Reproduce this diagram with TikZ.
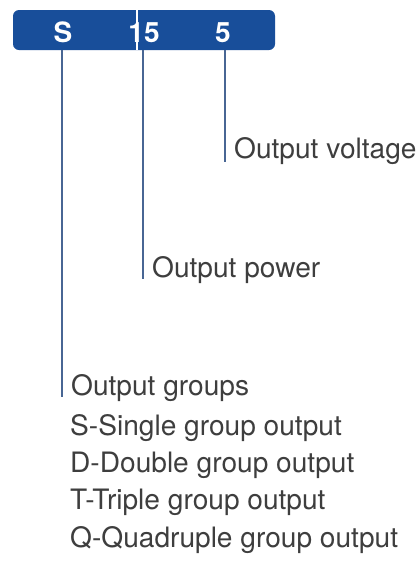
\documentclass[tikz,border=0pt]{standalone}
\usepackage{fontspec}
\setmainfont{TeX Gyre Heros}
\usetikzlibrary{positioning}
\definecolor{barblue}{RGB}{24,78,154}
\definecolor{leadline}{RGB}{72,102,148}
\definecolor{labelgray}{RGB}{62,62,62}
\tikzset{
  codebar/.style   = {fill=barblue,rounded corners=6pt,inner sep=0pt,
                      minimum width=262pt,minimum height=40pt},
  codedigit/.style = {text=white,font=\fontsize{28}{28}\selectfont\bfseries,
                      inner sep=0pt,anchor=base},
  leader/.style    = {leadline,line width=1.3pt},
  lbl/.style       = {text=labelgray,font=\fontsize{28.1}{32}\selectfont,
                      inner sep=0pt,anchor=base west}
}

\begin{document}
\begin{tikzpicture}[x=1pt,y=-1pt]
  \useasboundingbox[fill=white] (0,0) rectangle (419,563);
  % code bar
  \node[codebar] (bar) at (144,30) {};
  \node[codedigit] (sdig) at (63,42) {S};
  \node[codedigit] (pdig) at (144,42) {15};
  \node[codedigit] (vdig) at (223,42) {5};
  \draw[white,line width=2pt] (bar.north -| 137,0) -- (bar.south -| 137,0);
  % labels
  \node[lbl] (volt)   at (234,158) {Output voltage};
  \node[lbl] (power)  at (152,277) {Output power};
  \node[lbl] (groups) at (71,395)  {Output groups};
  \node[lbl] (single) at (70,435)  {S-Single group output};
  \node[lbl] (double) at (70,472)  {D-Double group output};
  \node[lbl] (triple) at (70,509)  {T-Triple group output};
  \node[lbl] (quad)   at (70,547)  {Q-Quadruple group output};
  % leader lines
  \coordinate[left=9pt of volt.base west]   (vfoot);
  \coordinate[left=9pt of power.base west]  (pfoot);
  \coordinate[left=9pt of groups.base west] (gfoot);
  \draw[leader] (bar.south -| vfoot) -- ([yshift=-4pt]vfoot);
  \draw[leader] (bar.south -| pfoot) -- ([yshift=-2pt]pfoot);
  \draw[leader] (bar.south -| gfoot) -- ([yshift=-2pt]gfoot);
\end{tikzpicture}
\end{document}
